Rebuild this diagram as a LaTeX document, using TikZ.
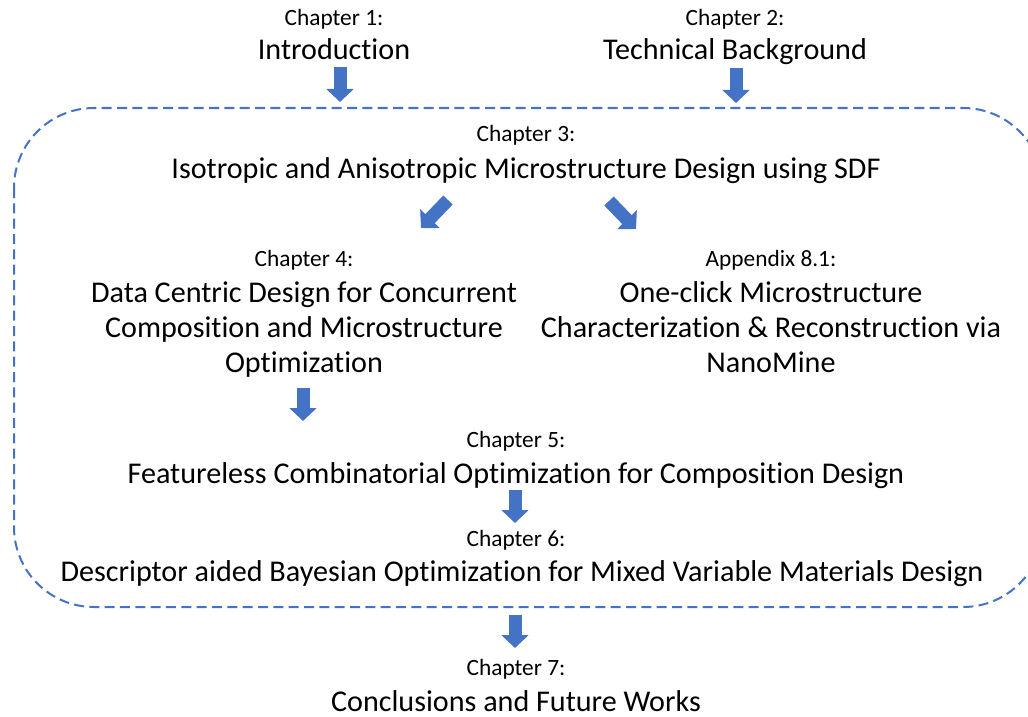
\documentclass[tikz,border=0pt]{standalone}
\usepackage{fontspec}
\setmainfont{Carlito}[Ligatures=NoCommon]
\usepackage{tikz}
\usetikzlibrary{arrows.meta}
\definecolor{arrowblue}{HTML}{4472C4}
\tikzset{
	smallstyle/.style={anchor=base,inner sep=0pt,font=\fontsize{17.5}{21}\selectfont},
	bigstyle/.style={anchor=base,inner sep=0pt,align=center,font=\fontsize{22.6}{26.25}\selectfont},
	blockarrow/.style={draw=arrowblue,line width=9.75pt,-{Triangle[length=9.75pt,width=20pt]}},
	groupstyle/.style={draw=arrowblue,line width=1.5pt,dash pattern=on 7.5pt off 4pt,rounded corners=60pt}
}
\begin{document}
\begin{tikzpicture}[x=0.75pt,y=-0.75pt]
	\useasboundingbox (0,0) rectangle (1028,717);
	\clip (0,0) rectangle (1028,717);
	% dashed group round chapters 3 to 6
	\draw[groupstyle] (14,108) rectangle (1043,607);
	% chapter labels and titles
	\node[smallstyle] (c1) at (334,26) {Chapter 1:};
	\node[bigstyle] (t1) at (334,60) {Introduction};
	\node[smallstyle] (c2) at (735,26) {Chapter 2:};
	\node[bigstyle] (t2) at (735,60) {Technical Background};
	\node[smallstyle] (c3) at (526,142) {Chapter 3:};
	\node[bigstyle] (t3) at (526,178) {Isotropic and Anisotropic Microstructure Design using SDF};
	\node[smallstyle] (c4) at (304,266) {Chapter 4:};
	\node[bigstyle,anchor=north] (t4) at (304,281) {Data Centric Design for Concurrent\\Composition and Microstructure\\Optimization};
	\node[smallstyle] (a81) at (771,266) {Appendix 8.1:};
	\node[bigstyle,anchor=north] (ta) at (771,281) {One-click Microstructure\\Characterization \& Reconstruction via\\NanoMine};
	\node[smallstyle] (c5) at (516,447) {Chapter 5:};
	\node[bigstyle] (t5) at (516,483) {Featureless Combinatorial Optimization for Composition Design};
	\node[smallstyle] (c6) at (516,546) {Chapter 6:};
	\node[bigstyle] (t6) at (522,581) {Descriptor aided Bayesian Optimization for Mixed Variable Materials Design};
	\node[smallstyle] (c7) at (516,675) {Chapter 7:};
	\node[bigstyle] (t7) at (516,711) {Conclusions and Future Works};
	% arrow ends
	\coordinate (p1) at (340,67);  \coordinate (q1) at (340,102);
	\coordinate (p2) at (736,68);  \coordinate (q2) at (736,103);
	\coordinate (p3) at (448,200); \coordinate (q3) at (421,228);
	\coordinate (p4) at (609,201); \coordinate (q4) at (636,229);
	\coordinate (p5) at (303,388); \coordinate (q5) at (303,421);
	\coordinate (p6) at (515,490); \coordinate (q6) at (515,523);
	\coordinate (p7) at (515,615); \coordinate (q7) at (515,648);
	\foreach \i in {1,...,7}
		\draw[blockarrow] (p\i) -- (q\i);
\end{tikzpicture}
\end{document}
